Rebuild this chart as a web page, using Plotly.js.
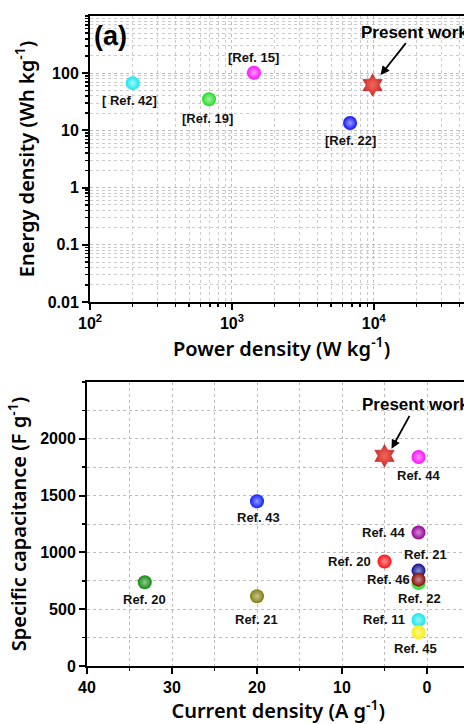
<!DOCTYPE html>
<html>
<head>
<meta charset="utf-8">
<script src="https://cdn.plot.ly/plotly-3.0.1.min.js"></script>
<style>
html,body{margin:0;padding:0;overflow:hidden;background:#fff;}
#chart{width:480px;height:724px;}
</style>
</head>
<body>
<div id="chart"></div>
<script>
// ---------- data: panel (a) Ragone plot ----------
const topRefs   = ['[ Ref. 42]', '[Ref. 19]', '[Ref. 15]', '[Ref. 22]'];
const topPower  = [200, 690, 1430, 6800];      // W kg-1
const topEnergy = [67, 35, 102, 13.5];         // Wh kg-1
const topColors = ['#19e6ee', '#22dd22', '#ff10ff', '#1010ff'];
const presentPower  = [9800];
const presentEnergy = [62];
const presentLabel  = 'Present work';

// ---------- data: panel (b) capacitance vs current density ----------
const botRefs    = ['Ref. 44', 'Ref. 43', 'Ref. 44', 'Ref. 20', 'Ref. 21', 'Ref. 22', 'Ref. 46', 'Ref. 20', 'Ref. 21', 'Ref. 11', 'Ref. 45'];
const botCurrent = [1, 20, 1, 5, 1, 1, 1, 33.2, 20, 1, 1];          // A g-1
const botCap     = [1840, 1450, 1175, 920, 840, 730, 760, 737, 614, 405, 297]; // F g-1
const botColors  = ['#ff10ff', '#1020ff', '#990099', '#ff1010', '#101090', '#22dd22', '#8a0a0a', '#138a13', '#808010', '#19e6ee', '#f5f010'];
const presentCurrent = [5];
const presentCap     = [1850];

// tick labels
const topXTickVals = [100, 1000, 10000];
const topXTickText = ['10<sup>2</sup>', '10<sup>3</sup>', '10<sup>4</sup>'];
const topYTickVals = [0.01, 0.1, 1, 10, 100];
const topYTickText = ['0.01', '0.1', '1', '10', '100'];
const botXTickVals = [40, 30, 20, 10, 0];
const botYTickVals = [0, 500, 1000, 1500, 2000];

// ---------- label placement (pixel offsets, presentation only) ----------
const topLabelShift = [[-3,-17],[-2,-19],[0,15],[0,-18]];
const botLabelShift = [[0,-19],[1,-16],[-35,0],[-35,0],[7,16],[1,-15],[-30,0],[0,-17],[-1,-23],[-35,0],[-3,-16]];

const W = 480, H = 724, MT = 16, MB = 58, PH = H - MT - MB;
const pyTop = p => (H - MB - p) / PH; // pixel y -> paper

function lighten(hex, f){
  const n = parseInt(hex.slice(1),16);
  let r=(n>>16)&255,g=(n>>8)&255,b=n&255;
  r=Math.round(r+(255-r)*f); g=Math.round(g+(255-g)*f); b=Math.round(b+(255-b)*f);
  return 'rgb('+r+','+g+','+b+')';
}

const labelFont = {family:'Liberation Sans, Arial, sans-serif', size:13, weight:'bold', color:'#111'};
const tickFont  = {family:'Liberation Sans, Arial, sans-serif', size:16, weight:'bold', color:'#000'};
const titleFont = {family:'Noto Sans, sans-serif', size:20, weight:600, color:'#000'};

const traces = [
  {x: topPower, y: topEnergy, xaxis:'x', yaxis:'y', mode:'markers', type:'scatter',
   marker:{size:14, color: topColors, line:{width:0},
           gradient:{type:'radial', color: topColors.map(c=>lighten(c,0.6))}},
   hoverinfo:'skip'},
  {x: presentPower, y: presentEnergy, xaxis:'x', yaxis:'y', mode:'markers', type:'scatter',
   marker:{size:17, symbol:'hexagram', color:'#d42a2a', line:{width:0.5,color:'#a01010'},
           gradient:{type:'radial', color:'#ee6a5a'}}, hoverinfo:'skip'},
  {x: botCurrent, y: botCap, xaxis:'x2', yaxis:'y2', mode:'markers', type:'scatter',
   marker:{size:14, color: botColors, line:{width:0},
           gradient:{type:'radial', color: botColors.map(c=>lighten(c,0.55))}},
   hoverinfo:'skip'},
  {x: presentCurrent, y: presentCap, xaxis:'x2', yaxis:'y2', mode:'markers', type:'scatter',
   marker:{size:17, symbol:'hexagram', color:'#d42a2a', line:{width:0.5,color:'#a01010'},
           gradient:{type:'radial', color:'#ee6a5a'}}, hoverinfo:'skip'}
];

const annotations = [];
topRefs.forEach((t,i)=>{
  annotations.push({xref:'x', yref:'y', x:Math.log10(topPower[i]), y:Math.log10(topEnergy[i]),
    text:t, showarrow:false, xshift:topLabelShift[i][0], yshift:topLabelShift[i][1], font:labelFont});
});
botRefs.forEach((t,i)=>{
  annotations.push({xref:'x2', yref:'y2', x:botCurrent[i], y:botCap[i],
    text:t, showarrow:false, xshift:botLabelShift[i][0], yshift:botLabelShift[i][1], font:labelFont});
});
annotations.push({xref:'x', yref:'y', x:Math.log10(presentPower[0]), y:Math.log10(presentEnergy[0]),
  xshift:8, yshift:10, text:presentLabel, showarrow:true, arrowhead:2, arrowsize:1, arrowwidth:1.8,
  arrowcolor:'#000', ax:34, ay:-43, font:{family:'Liberation Sans, Arial, sans-serif', size:17, weight:'bold', color:'#000'}});
annotations.push({xref:'x2', yref:'y2', x:presentCurrent[0], y:presentCap[0],
  xshift:7, yshift:7, text:presentLabel, showarrow:true, arrowhead:2, arrowsize:1, arrowwidth:1.8,
  arrowcolor:'#000', ax:24, ay:-44, font:{family:'Liberation Sans, Arial, sans-serif', size:17, weight:'bold', color:'#000'}});
annotations.push({xref:'paper', yref:'paper', x:110/W, y:pyTop(36), text:'(a)', showarrow:false,
  xanchor:'center', yanchor:'middle', font:{family:'Liberation Sans, Arial, sans-serif', size:27, weight:'bold', color:'#000'}});

const axisCommon = {
  showline:true, linewidth:2, linecolor:'#000', mirror:true,
  ticks:'outside', ticklen:6, tickwidth:2, tickcolor:'#000',
  showgrid:true, gridcolor:'#bdbdbd', griddash:'dot', gridwidth:1,
  zeroline:false, tickfont:tickFont, fixedrange:true
};

const layout = {
  width:W, height:H,
  margin:{l:0, r:0, t:MT, b:MB},
  paper_bgcolor:'#fff', plot_bgcolor:'#fff',
  showlegend:false,
  xaxis: Object.assign({}, axisCommon, {
    type:'log', range:[2, Math.log10(50000)], domain:[90/W, 473/W], anchor:'y',
    tickmode:'array', tickvals:topXTickVals, ticktext:topXTickText,
    minor:{dtick:'D1', ticks:'outside', ticklen:3, tickwidth:1.5, tickcolor:'#000',
           showgrid:true, gridcolor:'#cccccc', griddash:'dot', gridwidth:1},
    title:{text:'Power density (W kg<sup>-1</sup>)', font:titleFont, standoff:10}
  }),
  yaxis: Object.assign({}, axisCommon, {
    type:'log', range:[-2, 3], domain:[pyTop(302), 1], anchor:'x',
    tickmode:'array', tickvals:topYTickVals, ticktext:topYTickText,
    minor:{dtick:'D1', ticks:'outside', ticklen:3, tickwidth:1.5, tickcolor:'#000',
           showgrid:true, gridcolor:'#cccccc', griddash:'dot', gridwidth:1},
    title:{text:'Energy density (Wh kg<sup>-1</sup>)', font:titleFont, standoff:8}
  }),
  xaxis2: Object.assign({}, axisCommon, {
    range:[40, -5], domain:[87/W, 469.5/W], anchor:'y2',
    tickmode:'array', tickvals:botXTickVals,
    minor:{tickmode:'linear', tick0:0, dtick:5, ticks:'outside', ticklen:3, tickwidth:1.5, tickcolor:'#000',
           showgrid:true, gridcolor:'#bdbdbd', griddash:'dot', gridwidth:1},
    title:{text:'Current density (A g<sup>-1</sup>)', font:titleFont, standoff:10}
  }),
  yaxis2: Object.assign({}, axisCommon, {
    range:[0, 2500], domain:[0, pyTop(382)], anchor:'x2',
    tickmode:'array', tickvals:botYTickVals,
    minor:{tickmode:'linear', tick0:0, dtick:250, ticks:'outside', ticklen:3, tickwidth:1.5, tickcolor:'#000',
           showgrid:true, gridcolor:'#bdbdbd', griddash:'dot', gridwidth:1},
    title:{text:'Specific capacitance (F g<sup>-1</sup>)', font:titleFont, standoff:8}
  }),
  annotations: annotations
};

Plotly.newPlot('chart', traces, layout, {displayModeBar:false, staticPlot:true});
</script>
</body>
</html>
